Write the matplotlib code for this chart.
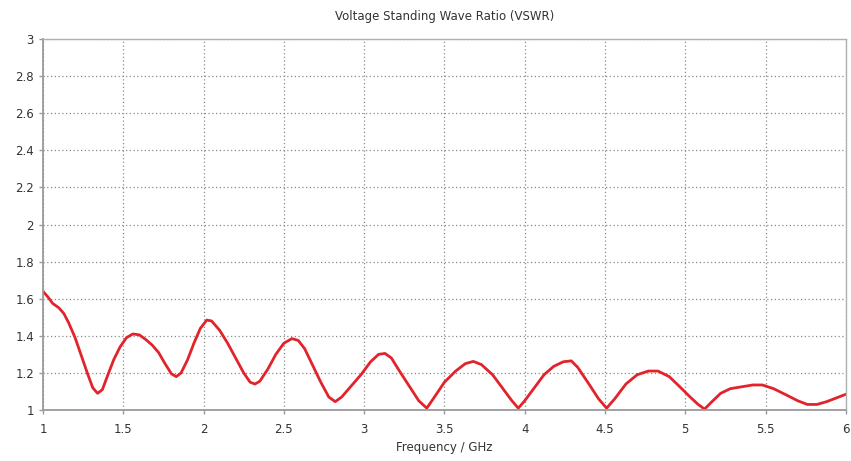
import matplotlib
matplotlib.use('Agg')
import matplotlib.pyplot as plt

# frequency (GHz) and VSWR
freq = [1.00, 1.03, 1.06, 1.10, 1.13, 1.16, 1.20, 1.24, 1.28, 1.31, 1.34, 1.37,
        1.40, 1.44, 1.48, 1.52, 1.56, 1.60, 1.64, 1.68, 1.72, 1.76, 1.80, 1.83,
        1.86, 1.90, 1.94, 1.98, 2.02, 2.05, 2.10, 2.15, 2.20, 2.25, 2.29, 2.32,
        2.35, 2.40, 2.45, 2.50, 2.55, 2.59, 2.63, 2.68, 2.73, 2.78, 2.82, 2.86,
        2.92, 2.98, 3.04, 3.09, 3.13, 3.17, 3.22, 3.28, 3.34, 3.39, 3.43, 3.50,
        3.57, 3.63, 3.68, 3.73, 3.80, 3.86, 3.92, 3.96, 4.00, 4.06, 4.12, 4.18,
        4.24, 4.29, 4.33, 4.40, 4.46, 4.51, 4.56, 4.63, 4.70, 4.77, 4.83, 4.90,
        4.96, 5.03, 5.08, 5.12, 5.16, 5.22, 5.28, 5.35, 5.42, 5.48, 5.55, 5.62,
        5.70, 5.76, 5.82, 5.88, 5.94, 6.00]
vswr = [1.64, 1.61, 1.575, 1.55, 1.52, 1.47, 1.39, 1.29, 1.19, 1.12, 1.09, 1.11,
        1.18, 1.27, 1.34, 1.39, 1.41, 1.405, 1.38, 1.35, 1.31, 1.25, 1.195, 1.18,
        1.20, 1.27, 1.36, 1.44, 1.485, 1.48, 1.43, 1.36, 1.28, 1.20, 1.15, 1.14,
        1.155, 1.22, 1.30, 1.36, 1.385, 1.375, 1.33, 1.24, 1.15, 1.07, 1.045, 1.07,
        1.13, 1.19, 1.26, 1.30, 1.305, 1.28, 1.21, 1.13, 1.05, 1.01, 1.06, 1.15,
        1.21, 1.25, 1.262, 1.245, 1.19, 1.12, 1.05, 1.01, 1.05, 1.12, 1.19, 1.235,
        1.26, 1.265, 1.23, 1.14, 1.06, 1.01, 1.06, 1.14, 1.19, 1.21, 1.21, 1.18,
        1.13, 1.07, 1.03, 1.005, 1.04, 1.09, 1.115, 1.125, 1.135, 1.135, 1.115, 1.085,
        1.05, 1.03, 1.03, 1.045, 1.065, 1.085]

xticks = [1, 1.5, 2, 2.5, 3, 3.5, 4, 4.5, 5, 5.5, 6]
xticklabels = ['1', '1.5', '2', '2.5', '3', '3.5', '4', '4.5', '5', '5.5', '6']
yticks = [1, 1.2, 1.4, 1.6, 1.8, 2, 2.2, 2.4, 2.6, 2.8, 3]
yticklabels = ['1', '1.2', '1.4', '1.6', '1.8', '2', '2.2', '2.4', '2.6', '2.8', '3']

fig = plt.figure(figsize=(8.51, 4.61), dpi=100)
ax = fig.add_axes([0.0505, 0.1106, 0.9435, 0.8048])

ax.plot(freq, vswr, color='#e2232b', linewidth=2.0, solid_joinstyle='round')

ax.set_xlim(1, 6)
ax.set_ylim(1, 3)
ax.set_xticks(xticks)
ax.set_xticklabels(xticklabels)
ax.set_yticks(yticks)
ax.set_yticklabels(yticklabels)
ax.grid(True, color='#8a8a8a', linestyle=(0, (1, 2)), linewidth=0.9)

for side in ['left', 'bottom']:
    ax.spines[side].set_color('#9a9a9a')
    ax.spines[side].set_linewidth(1.3)
for side in ['top', 'right']:
    ax.spines[side].set_color('#b0b0b0')
    ax.spines[side].set_linewidth(1.0)

ax.tick_params(axis='both', colors='#9a9a9a', labelcolor='#333333',
               labelsize=8.5, length=3, width=1)
ax.tick_params(axis='x', pad=6)

ax.set_xlabel('Frequency / GHz', fontsize=8.5, color='#333333', labelpad=4)
ax.set_title('Voltage Standing Wave Ratio (VSWR)', fontsize=8.5,
             color='#333333', pad=14)

fig.savefig('out.png', dpi=100, facecolor='white')
